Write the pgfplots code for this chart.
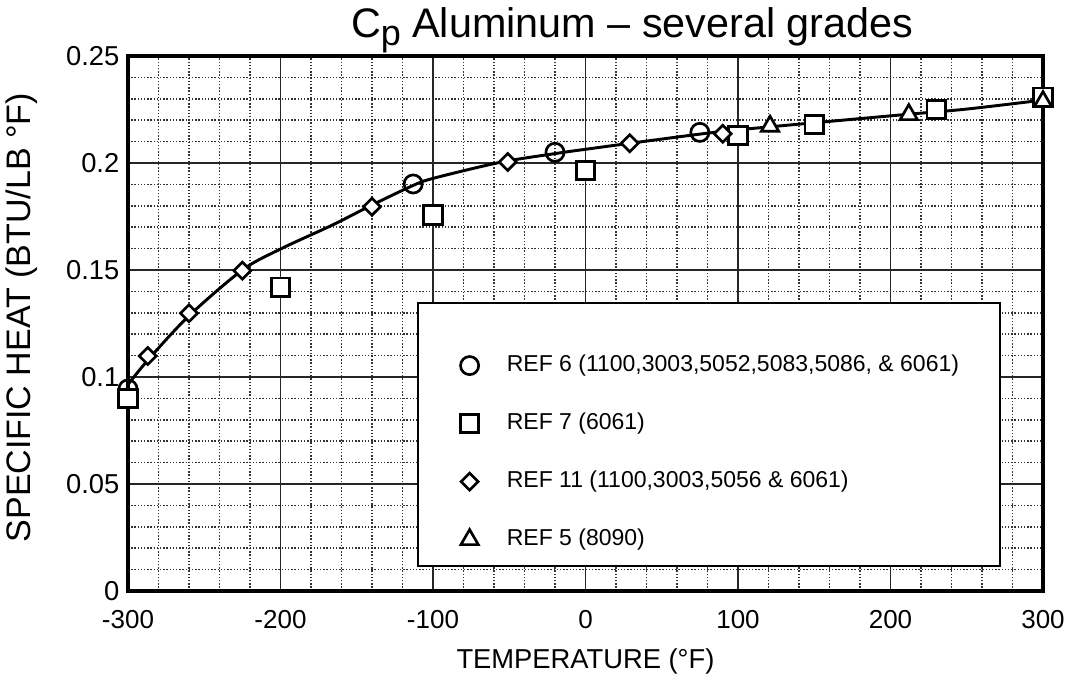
\documentclass[border=0pt]{standalone}
\usepackage{fontspec}
\setmainfont{Liberation Sans}
\usepackage{pgfplots}
\pgfplotsset{compat=1.18}

\begin{document}
\begin{tikzpicture}
% page frame: 1px = 0.75pt of the 1068x678 reference
\useasboundingbox (-96pt,-65.25pt) rectangle (705pt,443.25pt);
\begin{axis}[
    at={(0pt,0pt)}, anchor=south west,
    scale only axis,
    width=686.25pt, height=401.25pt,
    xmin=-300, xmax=300, ymin=0, ymax=0.25,
    xtick={-300,-200,...,300},
    ytick={0,0.05,0.1,0.15,0.2,0.25},
    scaled y ticks=false, scaled x ticks=false,
    minor x tick num=4, minor y tick num=4,
    grid=both,
    major grid style={black!85, line width=1.4pt},
    minor grid style={black!80, line width=1.1pt, dash pattern=on 1pt off 1.4pt},
    major tick length=0pt, minor tick length=0pt,
    axis line style={line width=2.3pt},
    /pgf/number format/assume math mode=true,
    /pgf/number format/fixed, /pgf/number format/precision=2,
    xticklabel style={font=\fontsize{19.5}{20}\selectfont, yshift=-11pt},
    yticklabel style={font=\fontsize{20.5}{22}\selectfont, xshift=-3pt},
    xlabel={TEMPERATURE (°F)},
    xlabel style={font=\fontsize{20.5}{22}\selectfont, at={(axis description cs:0.5,0)}, anchor=north, yshift=-40pt},
    ylabel={SPECIFIC HEAT (BTU/LB °F)},
    ylabel style={font=\fontsize{25.5}{27}\selectfont, at={(axis description cs:-0.116,0.511)}, anchor=center},
    title={C\raisebox{-5.5pt}{\fontsize{27}{27}\selectfont p} Aluminum – several grades},
    title style={font=\fontsize{31}{33}\selectfont, at={(axis description cs:0.551,1)}, anchor=base, yshift=7.5pt},
    legend cell align=left,
    legend style={at={(axis description cs:0.363,0.442)}, anchor=north west,
        draw=none, fill=none, inner sep=0pt,
        font=\fontsize{17.25}{20}\selectfont, row sep=27.3pt,
        nodes={inner ysep=0pt, text height=12.6pt, text depth=3.6pt},
        /tikz/every odd column/.append style={column sep=19pt}},
]
% legend frame
\draw[line width=1.9pt, fill=white] (axis cs:-109.8,0.0117) rectangle (axis cs:271.8,0.1346);

% fitted curve
\addplot[smooth, line width=2.2pt, forget plot] coordinates {
    (-300,0.0965) (-286,0.1087) (-260,0.1286) (-225,0.1500) (-200,0.1598)
    (-166,0.1710) (-141,0.1800) (-114,0.1892) (-100,0.1928) (-56,0.2003)
    (-18,0.2046) (0,0.2064) (29,0.2092) (75,0.2135) (100,0.2155)
    (150,0.2188) (212,0.2228) (250,0.2252) (300,0.2294)};

% REF 6
\addplot[only marks, mark=o, mark size=6.8pt, mark options={line width=2pt, fill=white}] coordinates {
    (-300,0.0944) (-113,0.1902) (-20,0.2050) (75,0.2143)};
% REF 7
\addplot[only marks, mark=square*, mark size=6.9pt, mark options={line width=2pt, fill=white}] coordinates {
    (-300,0.0900) (-200,0.1419) (-100,0.1757) (0,0.1965) (100,0.2128)
    (150,0.2180) (230,0.2250) (300,0.2308)};
% REF 11
\addplot[only marks, mark=square*, mark size=4.5pt, mark options={rotate=45, line width=2pt, fill=white}] coordinates {
    (-287,0.1098) (-260,0.1298) (-225,0.1497) (-140,0.1796)
    (-51,0.2005) (29,0.2092) (90,0.2137)};
% REF 5
\addplot[only marks, mark=triangle*, mark size=7.5pt, mark options={line width=2pt, fill=white}] coordinates {
    (121,0.2172) (212,0.2226) (300,0.2287)};

\legend{{REF 6 (1100,3003,5052,5083,5086, \& 6061)}, {REF 7 (6061)},
        {REF 11 (1100,3003,5056 \& 6061)}, {REF 5 (8090)}}
\end{axis}
\end{tikzpicture}
\end{document}
